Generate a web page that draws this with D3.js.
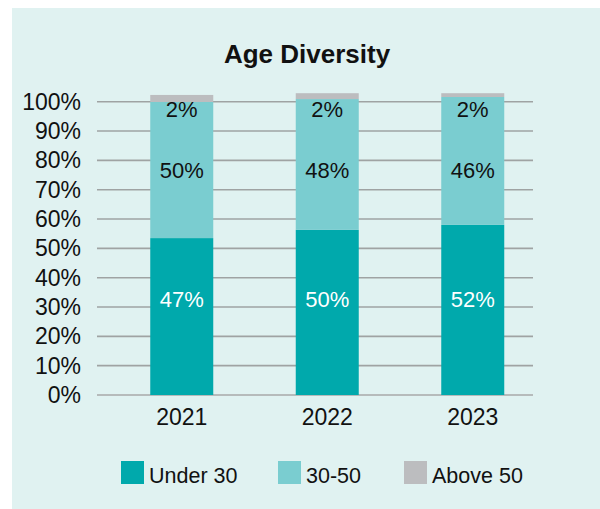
<!DOCTYPE html>
<html><head><meta charset="utf-8">
<script src="https://cdn.jsdelivr.net/npm/d3@7"></script>
<style>html,body{margin:0;padding:0;background:#fff;}svg{display:block;font-family:"Liberation Sans",Arial,Helvetica,sans-serif;}</style>
</head><body>
<svg id="c" width="600" height="509"></svg>
<script>
const years = ["2021", "2022", "2023"];
const seriesNames = ["Under 30", "30-50", "Above 50"];
// segment heights as drawn (percent of axis)
const under30 = [53.5, 56.3, 58.0];
const mid3050 = [46.4, 44.6, 43.6];
const above50 = [2.4, 2.0, 1.3];
// printed data labels
const under30Labels = ["47%", "50%", "52%"];
const mid3050Labels = ["50%", "48%", "46%"];
const above50Labels = ["2%", "2%", "2%"];
const yTicks = [0,10,20,30,40,50,60,70,80,90,100];
const colors = ["#00a9ac", "#7acdd0", "#bcbdbf"];

const svg = d3.select("#c");
svg.append("rect").attr("x",12).attr("y",8).attr("width",588).attr("height",501).attr("fill","#e0f2f1");

svg.append("text").attr("x",307).attr("y",63).attr("text-anchor","middle")
  .attr("font-size",26).attr("font-weight","bold").attr("fill","#111").text("Age Diversity");

const y = d3.scaleLinear().domain([0,100]).range([395,101.7]);
const x = d3.scaleBand().domain(years).range([109,545.5]).paddingInner(0.567).paddingOuter(0.2835);

// gridlines
svg.append("g").selectAll("line").data(yTicks).join("line")
  .attr("x1",97).attr("x2",533).attr("y1",d=>y(d)).attr("y2",d=>y(d))
  .attr("stroke",d=>d===0?"#a8a8a8":"#9fa3a3").attr("stroke-width",1.6);

// y tick labels
svg.append("g").selectAll("text").data(yTicks).join("text")
  .attr("x",81).attr("y",d=>y(d)).attr("dy","0.35em").attr("text-anchor","end")
  .attr("font-size",23).attr("fill","#111").text(d=>d+"%");

// stacked data
const rows = years.map((yr,i)=>({year:yr, "Under 30":under30[i], "30-50":mid3050[i], "Above 50":above50[i]}));
const stacked = d3.stack().keys(seriesNames)(rows);
svg.append("g").selectAll("g").data(stacked).join("g").attr("fill",(d,i)=>colors[i])
  .selectAll("rect").data(d=>d).join("rect")
  .attr("x",d=>x(d.data.year)).attr("width",x.bandwidth())
  .attr("y",d=>y(d[1])).attr("height",d=>y(d[0])-y(d[1]));

// labels
const labelSets = [
  {labels:under30Labels, pos:32.5, fill:"#ffffff"},
  {labels:mid3050Labels, pos:76.5, fill:"#111"},
  {labels:above50Labels, pos:97.5, fill:"#111"}
];
labelSets.forEach(s=>{
  svg.append("g").selectAll("text").data(years).join("text")
    .attr("x",d=>x(d)+x.bandwidth()/2).attr("y",y(s.pos)).attr("dy","0.35em")
    .attr("text-anchor","middle").attr("font-size",22).attr("fill",s.fill)
    .text((d,i)=>s.labels[i]);
});

// x axis labels
svg.append("g").selectAll("text").data(years).join("text")
  .attr("x",d=>x(d)+x.bandwidth()/2).attr("y",425).attr("text-anchor","middle")
  .attr("font-size",23).attr("fill","#111").text(d=>d);

// legend
const legX = [121, 278, 404];
const lg = svg.append("g").selectAll("g").data(seriesNames).join("g")
  .attr("transform",(d,i)=>`translate(${legX[i]},461)`);
lg.append("rect").attr("width",23).attr("height",23).attr("fill",(d,i)=>colors[i]);
lg.append("text").attr("x",28).attr("y",22).attr("font-size",21.5).attr("fill","#111").text(d=>d);
</script>
</body></html>
